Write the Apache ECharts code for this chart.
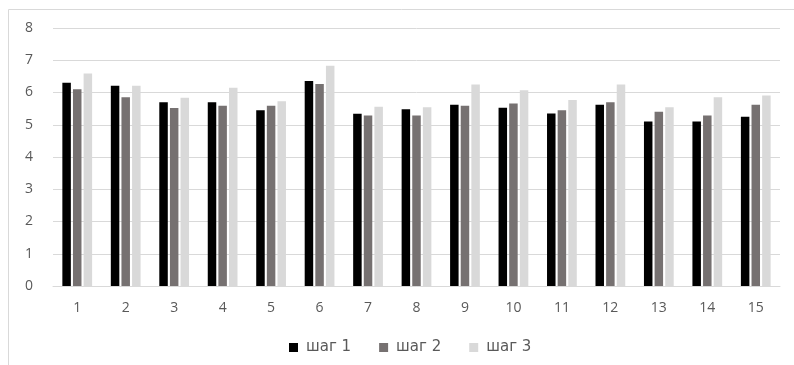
<!DOCTYPE html>
<html><head><meta charset="utf-8">
<script src="https://cdn.jsdelivr.net/npm/echarts@6/dist/echarts.min.js"></script>
<style>html,body{margin:0;padding:0;background:#fff}#c{width:794px;height:365px}</style>
</head><body><div id="c"></div>
<script>
const categories = ['1','2','3','4','5','6','7','8','9','10','11','12','13','14','15'];
const seriesNames = ['шаг 1','шаг 2','шаг 3'];
const step1 = [6.30,6.21,5.70,5.70,5.45,6.36,5.34,5.48,5.62,5.53,5.35,5.62,5.10,5.10,5.25];
const step2 = [6.10,5.85,5.52,5.59,5.59,6.26,5.29,5.29,5.59,5.66,5.45,5.70,5.40,5.29,5.62];
const step3 = [6.59,6.21,5.84,6.15,5.73,6.83,5.56,5.54,6.25,6.07,5.77,6.25,5.54,5.85,5.91];
const colors = ['#000000','#767171','#d9d9d9'];
const font = 'Open Sans';
const chart = echarts.init(document.getElementById('c'));
chart.setOption({
  animation:false,
  color:colors,
  textStyle:{fontFamily:font},
  graphic:[{type:'rect',shape:{x:8.5,y:9.5,width:820,height:400},style:{fill:'none',stroke:'#d9d9d9',lineWidth:1},silent:true}],
  grid:{left:53,right:14,top:28,bottom:79},
  legend:{bottom:5,left:284,itemWidth:9,itemHeight:9,itemGap:28,icon:'rect',
    textStyle:{color:'#595959',fontSize:15,fontFamily:'DejaVu Sans',padding:[0,0,0,3]},data:seriesNames},
  xAxis:{type:'category',data:categories,
    axisLine:{lineStyle:{color:'#d9d9d9'}},axisTick:{show:false},
    axisLabel:{color:'#595959',fontSize:14,margin:15,fontFamily:font}},
  yAxis:{type:'value',min:0,max:8,interval:1,
    axisLine:{show:false},axisTick:{show:false},
    splitLine:{lineStyle:{color:'#d9d9d9'}},
    axisLabel:{color:'#595959',fontSize:14,margin:20,fontFamily:font}},
  series:[
    {name:seriesNames[0],type:'bar',data:step1,barWidth:8.5,barGap:'25%'},
    {name:seriesNames[1],type:'bar',data:step2,barWidth:8.5,barGap:'25%'},
    {name:seriesNames[2],type:'bar',data:step3,barWidth:8.5,barGap:'25%'}
  ]
});
</script></body></html>
